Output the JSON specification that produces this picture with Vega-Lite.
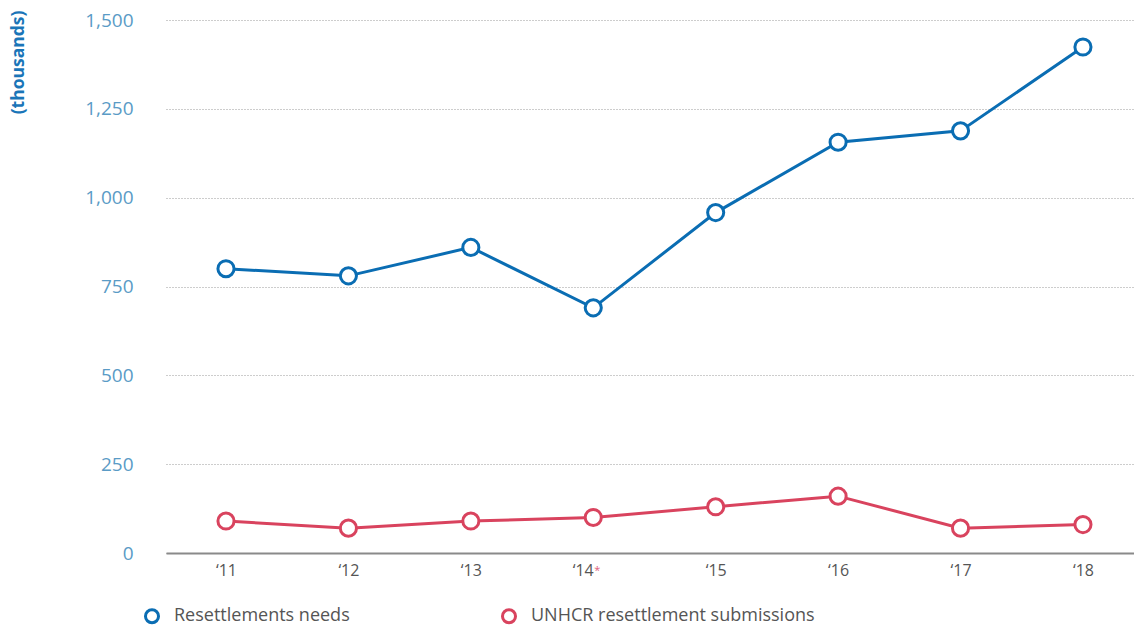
{
  "$schema": "https://vega.github.io/schema/vega-lite/v6.json",
  "width": 968,
  "height": 533,
  "autosize": {"type": "none"},
  "padding": {"left": 166, "top": 20, "right": 0, "bottom": 73},
  "config": {"view": {"stroke": null}, "font": "Open Sans"},
  "data": {
    "values": [
      {"year": 2011, "value": 800, "series": "Resettlements needs"},
      {"year": 2012, "value": 780, "series": "Resettlements needs"},
      {"year": 2013, "value": 860, "series": "Resettlements needs"},
      {"year": 2014, "value": 690, "series": "Resettlements needs"},
      {"year": 2015, "value": 958, "series": "Resettlements needs"},
      {"year": 2016, "value": 1156, "series": "Resettlements needs"},
      {"year": 2017, "value": 1188, "series": "Resettlements needs"},
      {"year": 2018, "value": 1424, "series": "Resettlements needs"},
      {"year": 2011, "value": 90, "series": "UNHCR resettlement submissions"},
      {"year": 2012, "value": 70, "series": "UNHCR resettlement submissions"},
      {"year": 2013, "value": 90, "series": "UNHCR resettlement submissions"},
      {"year": 2014, "value": 100, "series": "UNHCR resettlement submissions"},
      {"year": 2015, "value": 130, "series": "UNHCR resettlement submissions"},
      {"year": 2016, "value": 160, "series": "UNHCR resettlement submissions"},
      {"year": 2017, "value": 70, "series": "UNHCR resettlement submissions"},
      {"year": 2018, "value": 80, "series": "UNHCR resettlement submissions"}
    ]
  },
  "encoding": {
    "x": {
      "field": "year", "type": "quantitative",
      "scale": {"domain": [2010.51, 2018.417], "nice": false, "zero": false},
      "axis": {
        "values": [2011, 2012, 2013, 2014, 2015, 2016, 2017, 2018],
        "labelExpr": "'\u2018' + substring(toString(datum.value), 2)",
        "labelAlign": {"condition": {"test": "datum.value == 2014", "value": "right"}, "value": "center"},
        "grid": false, "ticks": false,
        "domainColor": "#8a8a8a", "domainWidth": 2,
        "labelColor": "#555555", "labelFontSize": 16, "labelPadding": 9,
        "title": null
      }
    },
    "y": {
      "field": "value", "type": "quantitative",
      "scale": {"domain": [0, 1500], "nice": false},
      "axis": {
        "values": [0, 250, 500, 750, 1000, 1250, 1500],
        "labelExpr": "format(datum.value, ',')",
        "grid": true, "gridDash": [1, 2], "gridColor": "#9a9a9a", "gridWidth": 1,
        "domain": false, "ticks": false,
        "labelColor": "#5a9bc6", "labelFontSize": 19, "labelPadding": 33,
        "title": "(thousands)", "titleColor": "#1a75b8", "titleFontWeight": "bold",
        "titleFontSize": 17.5, "titleAngle": -90, "titleX": -148, "titleY": -10,
        "titleAlign": "right", "titleBaseline": "middle"
      }
    }
  },
  "layer": [
    {
      "mark": {"type": "line", "strokeWidth": 3},
      "encoding": {
        "color": {"field": "series", "type": "nominal",
          "scale": {"domain": ["Resettlements needs", "UNHCR resettlement submissions"], "range": ["#0a6db3", "#d9435e"]},
          "legend": {
            "title": null, "orient": "none", "legendX": -23, "legendY": 587,
            "direction": "horizontal", "columns": 2, "columnPadding": 146,
            "symbolType": "circle", "symbolFillColor": "white", "symbolStrokeWidth": 3, "symbolSize": 170,
            "labelFontSize": 18, "labelColor": "#555555", "labelOffset": 13, "labelLimit": 400
          }}
      }
    },
    {
      "mark": {"type": "point", "shape": "circle", "filled": false, "fill": "white", "size": 260, "strokeWidth": 3, "opacity": 1},
      "encoding": {
        "color": {"field": "series", "type": "nominal",
          "scale": {"domain": ["Resettlements needs", "UNHCR resettlement submissions"], "range": ["#0a6db3", "#d9435e"]},
          "legend": {
            "title": null, "orient": "none", "legendX": -23, "legendY": 587,
            "direction": "horizontal", "columns": 2, "columnPadding": 146,
            "symbolType": "circle", "symbolFillColor": "white", "symbolStrokeWidth": 3, "symbolSize": 170,
            "labelFontSize": 18, "labelColor": "#555555", "labelOffset": 13, "labelLimit": 400
          }
        }
      }
    },
    {
      "data": {"values": [{"year": 2014, "value": 0, "note": "*"}]},
      "mark": {"type": "text", "color": "#e0607a", "align": "left", "dx": 1, "dy": 12, "baseline": "top", "fontSize": 11},
      "encoding": {"text": {"field": "note"}}
    }
  ]
}
